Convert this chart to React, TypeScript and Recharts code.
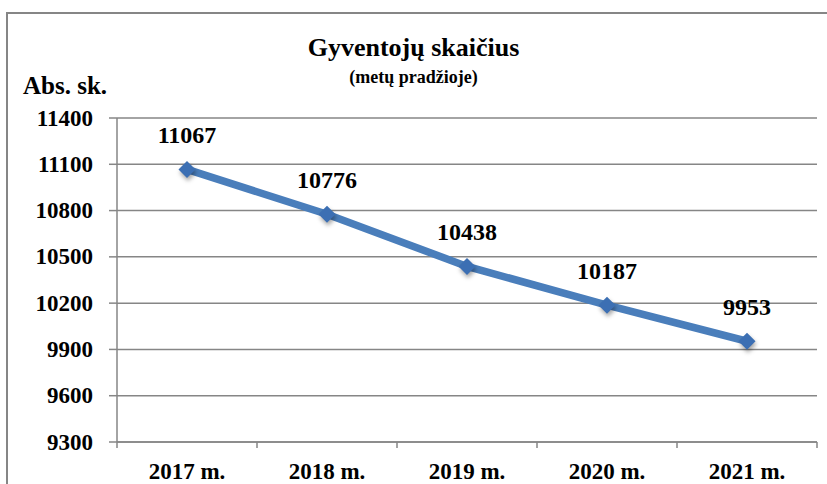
import { LineChart, Line, XAxis, YAxis, CartesianGrid, LabelList } from 'recharts'

const years = ['2017 m.', '2018 m.', '2019 m.', '2020 m.', '2021 m.']
const population = [11067, 10776, 10438, 10187, 9953]
const yTicks = [9300, 9600, 9900, 10200, 10500, 10800, 11100, 11400]

const data = years.map((year, i) => ({ year, value: population[i] }))

const FONT = 'Liberation Serif, Times New Roman, Times, Tinos, Noto Serif, DejaVu Serif, FreeSerif, serif'
const GRAY = '#868686'
const BLUE = '#4a7ebb'

const W = 827
const H = 484
const MARGIN = { top: 118, right: 10, bottom: 12, left: 57 }
const Y_AXIS_W = 60
const X_AXIS_H = 30
const BAND = (W - MARGIN.left - Y_AXIS_W - MARGIN.right) / years.length

function XTick(props: any) {
  const { x, y, payload, index } = props
  return (
    <g>
      <line x1={x - BAND / 2} x2={x - BAND / 2} y1={y - 8} y2={y - 2} stroke={GRAY} strokeWidth={1.5} />
      {index === years.length - 1 && (
        <line x1={x + BAND / 2} x2={x + BAND / 2} y1={y - 8} y2={y - 2} stroke={GRAY} strokeWidth={1.5} />
      )}
      <text x={x} y={y + 21} textAnchor="middle" dominantBaseline="central" style={{ fontFamily: FONT }} fontWeight="bold" fontSize={23} fill="#000">
        {payload.value}
      </text>
    </g>
  )
}

function YTick(props: any) {
  const { x, y, payload } = props
  return (
    <text x={x - 14} y={y} textAnchor="end" dominantBaseline="central" style={{ fontFamily: FONT }} fontWeight="bold" fontSize={23} fill="#000">
      {payload.value}
    </text>
  )
}

function Diamond(props: any) {
  const { cx, cy } = props
  if (cx == null || cy == null) return null
  const r = 8.5
  return (
    <path
      d={`M${cx},${cy - r} L${cx + r},${cy} L${cx},${cy + r} L${cx - r},${cy} Z`}
      fill="#3c6fb3"
      style={{ filter: 'drop-shadow(1px 3px 2px rgba(0,0,0,0.35))' }}
    />
  )
}

function ValueLabel(props: any) {
  const { x, y, value } = props
  return (
    <text x={x} y={y - 34} textAnchor="middle" dominantBaseline="central" style={{ fontFamily: FONT }} fontWeight="bold" fontSize={24} fill="#000">
      {value}
    </text>
  )
}

export default function App() {
  return (
    <div style={{ position: 'absolute', left: 0, top: 0, width: W, height: H, overflow: 'hidden', background: '#fff', fontFamily: FONT }}>
      <div style={{ position: 'absolute', left: 6, top: 12, width: 840, height: 500, border: `2px solid ${GRAY}` }} />
      <div style={{ position: 'absolute', left: 0, top: 32, width: W, textAlign: 'center', fontWeight: 'bold', fontSize: 26, lineHeight: '32px' }}>
        Gyventojų skaičius
      </div>
      <div style={{ position: 'absolute', left: 0, top: 66, width: W, textAlign: 'center', fontWeight: 'bold', fontSize: 18, lineHeight: '22px' }}>
        (metų pradžioje)
      </div>
      <div style={{ position: 'absolute', left: 23, top: 71, fontWeight: 'bold', fontSize: 25, lineHeight: '30px' }}>
        Abs. sk.
      </div>
      <div style={{ position: 'absolute', left: 0, top: 0 }}>
        <LineChart width={W} height={H} data={data} margin={MARGIN}>
          <CartesianGrid vertical={false} stroke={GRAY} strokeWidth={1.5} />
          <XAxis
            dataKey="year"
            height={X_AXIS_H}
            padding={{ left: BAND / 2, right: BAND / 2 }}
            axisLine={{ stroke: GRAY, strokeWidth: 1.5 }}
            tickLine={false}
            tick={<XTick />}
            interval={0}
          />
          <YAxis
            width={Y_AXIS_W}
            domain={[9300, 11400]}
            ticks={yTicks}
            interval={0}
            axisLine={{ stroke: GRAY, strokeWidth: 1.5 }}
            tickLine={{ stroke: GRAY, strokeWidth: 1.5 }}
            tickSize={8}
            tick={<YTick />}
          />
          <Line
            type="linear"
            dataKey="value"
            stroke={BLUE}
            strokeWidth={7.5}
            dot={<Diamond />}
            activeDot={false}
            isAnimationActive={false}
          >
            <LabelList dataKey="value" content={<ValueLabel />} />
          </Line>
        </LineChart>
      </div>
    </div>
  )
}
